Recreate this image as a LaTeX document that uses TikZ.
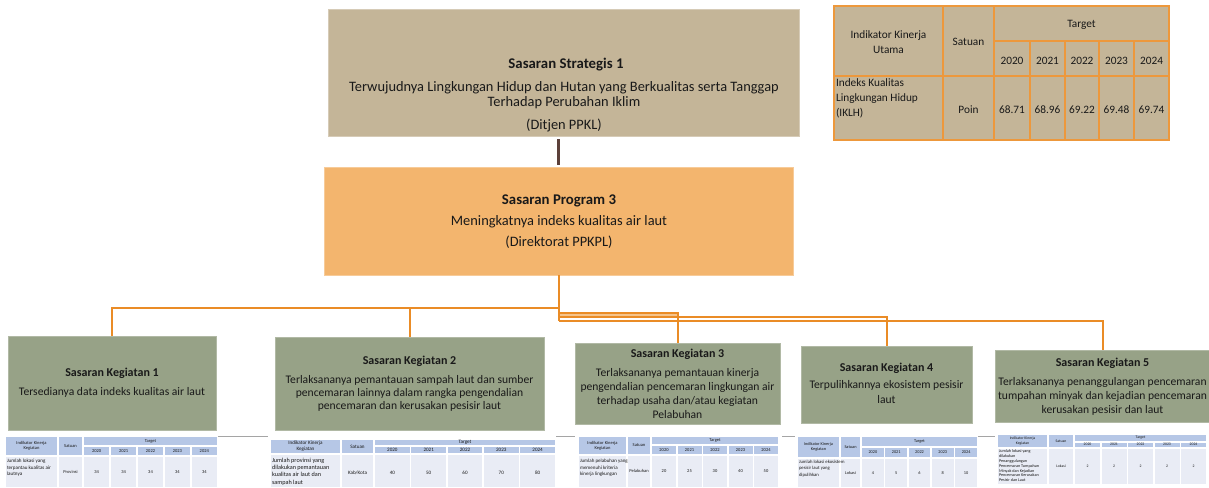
\documentclass[tikz,border=0pt]{standalone}
\usepackage{fontspec}
\setmainfont{Carlito}
\usetikzlibrary{calc}

\definecolor{tanbox}{RGB}{196,181,152}
\definecolor{progbox}{RGB}{243,181,110}
\definecolor{kegbox}{RGB}{151,162,135}
\definecolor{connor}{RGB}{234,140,38}
\definecolor{connband}{RGB}{245,196,140}
\definecolor{connbr}{RGB}{92,64,58}
\definecolor{tabline}{RGB}{237,152,60}
\definecolor{hdrblue}{RGB}{182,199,230}
\definecolor{cellblue}{RGB}{233,236,245}
\definecolor{sepgray}{RGB}{165,165,165}
\definecolor{ink}{RGB}{25,25,25}

% fonts used by the small indicator tables
\newcommand{\mtheadfont}{\fontsize{4}{4.8}\selectfont}
\newcommand{\mtdatafont}{\fontsize{4.6}{6.6}\selectfont}

% small indicator table: #1 name prefix, #2 left, #3 indicator column right,
% #4 unit column right, #5 right, #6 top, #7 target row bottom,
% #8 header bottom, #9 bottom
\newcommand{\minitab}[9]{%
  \pgfmathsetmacro{\mtl}{#4+2}%
  \pgfmathsetmacro{\mtw}{(#5-\mtl+1.5)/5}%
  \pgfmathsetmacro{\mtuc}{(#3+2+#4)/2}%
  \fill[hdrcell] (#2,#6) rectangle (#3,#8);
  \fill[hdrcell] (#3+2,#6) rectangle (#4,#8);
  \fill[hdrcell] (\mtl,#6) rectangle (#5,#7);
  \fill[datacell] (#2,#8+2) rectangle (#3,#9);
  \fill[datacell] (#3+2,#8+2) rectangle (#4,#9);
  \foreach \k in {0,...,4}{
    \fill[hdrcell] ({\mtl+\k*\mtw},#7+1.5) rectangle ({\mtl+(\k+1)*\mtw-1.5},#8);
    \fill[datacell] ({\mtl+\k*\mtw},#8+2) rectangle ({\mtl+(\k+1)*\mtw-1.5},#9);
  }
  \node[tabhead] (#1ind) at ({(#2+#3)/2},{(#6+#8)/2}) {Indikator Kinerja\\Kegiatan};
  \node[tabhead] (#1unit) at (\mtuc,{(#6+#8)/2}) {Satuan};
  \node[tabhead] (#1tgt) at ({(\mtl+#5)/2},{(#6+#7)/2}) {Target};
  \foreach \yr [count=\k from 0] in {2020,2021,2022,2023,2024}{
    \node[tabhead] (#1y\k) at ({\mtl+(\k+0.5)*\mtw-0.75},{(#7+1.5+#8)/2}) {\yr};
  }
}
% data row of the last small table: #1 prefix, #2 y, #3 unit, #4 values
\newcommand{\minivals}[4]{%
  \node[tabhead] (#1unitv) at (\mtuc,#2) {#3};
  \foreach \v [count=\k from 0] in {#4}{
    \node[tabhead] (#1v\k) at ({\mtl+(\k+0.5)*\mtw-0.75},#2) {\v};
  }
}

\begin{document}
\begin{tikzpicture}[x=1pt,y=-1pt,
  every node/.style={inner sep=0pt,outer sep=0pt,text=ink},
  boxbase/.style={rectangle,line width=0.8pt},
  ssbox/.style={boxbase,fill=tanbox,draw=tanbox!70!white},
  progboxst/.style={boxbase,fill=progbox,draw=progbox!70!white},
  kegboxst/.style={boxbase,fill=kegbox,draw=kegbox!75!white},
  bigtxt/.style={anchor=base,font=\fontsize{14.4}{17}\selectfont},
  bigbold/.style={anchor=base,font=\fontsize{14.8}{17}\selectfont\bfseries},
  kegtxt/.style={anchor=base,font=\fontsize{11.6}{14}\selectfont},
  kegbold/.style={anchor=base,font=\fontsize{12}{14}\selectfont\bfseries},
  orline/.style={draw=connor,line width=2pt},
  brline/.style={draw=connbr,line width=2.3pt},
  hdrcell/.style={fill=hdrblue},
  datacell/.style={fill=cellblue},
  tabhead/.style={font=\mtheadfont,align=center},
  tabdata/.style={font=\mtdatafont,align=left,anchor=north west},
  sepline/.style={draw=sepgray,line width=1pt},
  tgrid/.style={draw=tabline,line width=1.8pt},
  ttxt/.style={anchor=base,font=\fontsize{11.3}{13}\selectfont},
]
\useasboundingbox (0,0) rectangle (1209,487);
\fill[white] (0,0) rectangle (1209,487);

% ---------- strategic goal ----------
\node[ssbox,minimum width=471pt,minimum height=127pt] (ss) at (564,72.5) {};
\node[bigbold] (ssT) at (566,69) {Sasaran Strategis 1};
\node[bigtxt] (ssL1) at (564,91) {Terwujudnya Lingkungan Hidup dan Hutan yang Berkualitas serta Tanggap};
\node[bigtxt] (ssL2) at (564,106) {Terhadap Perubahan Iklim};
\node[bigtxt] (ssL3) at (564,129) {(Ditjen PPKL)};

% ---------- program goal ----------
\node[progboxst,minimum width=469pt,minimum height=108pt] (prog) at (558.5,221) {};
\node[bigbold] (progT) at (559,204) {Sasaran Program 3};
\node[bigtxt] (progL1) at (559,225) {Meningkatnya indeks kualitas air laut};
\node[bigtxt] (progL2) at (559,246) {(Direktorat PPKPL)};

\draw[brline,shorten <=3pt,shorten >=2pt] (ss.south -| prog.north) -- (prog.north);

% ---------- activity goals ----------
\node[kegboxst,minimum width=208pt,minimum height=94pt] (k1) at (112,383) {};
\node[kegbold] (k1T) at (112,376.5) {Sasaran Kegiatan 1};
\node[kegtxt] (k1L1) at (112,395.5) {Tersedianya data indeks kualitas air laut};

\node[kegboxst,minimum width=269pt,minimum height=93pt] (k2) at (409.5,383.5) {};
\node[kegbold] (k2T) at (409.5,364.5) {Sasaran Kegiatan 2};
\node[kegtxt] (k2L1) at (409.5,383.5) {Terlaksananya pemantauan sampah laut dan sumber};
\node[kegtxt] (k2L2) at (409.5,396.5) {pencemaran lainnya dalam rangka pengendalian};
\node[kegtxt] (k2L3) at (409.5,409.5) {pencemaran dan kerusakan pesisir laut};

\node[kegboxst,minimum width=205pt,minimum height=81pt] (k3) at (677.5,383.5) {};
\node[kegbold] (k3T) at (677.5,357.5) {Sasaran Kegiatan 3};
\node[kegtxt] (k3L1) at (677.5,376.5) {Terlaksananya pemantauan kinerja};
\node[kegtxt] (k3L2) at (677.5,390.5) {pengendalian pencemaran lingkungan air};
\node[kegtxt] (k3L3) at (677.5,404.5) {terhadap usaha dan/atau kegiatan};
\node[kegtxt] (k3L4) at (677.5,418.5) {Pelabuhan};

\node[kegboxst,minimum width=171pt,minimum height=77pt] (k4) at (886.5,384.5) {};
\node[kegbold] (k4T) at (886.5,371.5) {Sasaran Kegiatan 4};
\node[kegtxt] (k4L1) at (886.5,388.5) {Terpulihkannya ekosistem pesisir};
\node[kegtxt] (k4L2) at (886.5,403.5) {laut};

\node[kegboxst,minimum width=215pt,minimum height=72pt] (k5) at (1102.5,386) {};
\node[kegbold] (k5T) at (1102.5,366.5) {Sasaran Kegiatan 5};
\node[kegtxt] (k5L1) at (1102.5,385.5) {Terlaksananya penanggulangan pencemaran};
\node[kegtxt] (k5L2) at (1102.5,399.5) {tumpahan minyak dan kejadian pencemaran};
\node[kegtxt] (k5L3) at (1102.5,413.5) {kerusakan pesisir dan laut};

% ---------- orange connectors ----------
\coordinate (j1) at ($(prog.south)+(0,33)$);
\coordinate (j3) at ($(prog.south)+(0,38)$);
\coordinate (j4) at ($(prog.south)+(0,42)$);
\coordinate (j5) at ($(prog.south)+(0,46)$);
\fill[connband] (j3) rectangle (j4 -| k3.north);
\draw[orline] (prog.south) -- (j5);
\draw[orline] (j1) -| (k1.north);
\draw[orline] (j1) -| (k2.north);
\draw[orline] (j3) -| (k3.north);
\draw[orline] (j4) -| (k4.north);
\draw[orline] (j5) -| (k5.north);

% ---------- small indicator tables ----------
\draw[sepline] (218,436) -- (268,436);
\draw[sepline] (556,436) -- (575,436);
\draw[sepline] (782,436) -- (795,436);
\draw[sepline] (978,436) -- (995,436);

\renewcommand{\mtheadfont}{\fontsize{4.5}{5.3}\selectfont}
\renewcommand{\mtdatafont}{\fontsize{5.1}{6.6}\selectfont}
\minitab{ta}{6}{57}{82}{217}{437}{445}{455}{487}
\node[tabdata] (tatxt) at (7,459) {Jumlah lokasi yang\\terpantau kualitas air\\lautnya};
\minivals{ta}{472}{Provinsi}{34,34,34,34,34}

\renewcommand{\mtheadfont}{\fontsize{5.1}{5.8}\selectfont}
\renewcommand{\mtdatafont}{\fontsize{6.2}{7.3}\selectfont}
\minitab{tb}{271}{340}{373}{555}{440}{445}{453}{487}
\node[tabdata] (tbtxt) at (272,458) {Jumlah provinsi yang\\dilakukan pemantauan\\kualitas air laut dan\\sampah laut};
\minivals{tb}{473}{Kab/Kota}{40,50,60,70,80}

\renewcommand{\mtheadfont}{\fontsize{4.5}{5.2}\selectfont}
\renewcommand{\mtdatafont}{\fontsize{5}{6.6}\selectfont}
\minitab{tc}{579}{626}{650}{778}{437}{444}{454}{487}
\node[tabdata] (tctxt) at (580,459) {Jumlah pelabuhan yang\\memenuhi kriteria\\kinerja lingkungan};
\minivals{tc}{471}{Pelabuhan}{20,25,30,40,50}

\renewcommand{\mtheadfont}{\fontsize{4.3}{5}\selectfont}
\renewcommand{\mtdatafont}{\fontsize{4.7}{6.5}\selectfont}
\minitab{td}{798}{839}{860}{977}{437}{446}{457}{487}
\node[tabdata] (tdtxt) at (799,460) {Jumlah lokasi ekosistem\\pesisir laut yang\\dipulihkan};
\minivals{td}{473}{Lokasi}{4,5,6,8,10}

\renewcommand{\mtheadfont}{\fontsize{3.8}{4.3}\selectfont}
\renewcommand{\mtdatafont}{\fontsize{4.2}{4.8}\selectfont}
\minitab{te}{998}{1047}{1073}{1206}{435}{441}{447}{484}
\node[tabdata] (tetxt) at (999,450) {Jumlah lokasi yang\\dilakukan\\Penanggulangan\\Pencemaran Tumpahan\\Minyak dan Kejadian\\Pencemaran Kerusakan\\Pesisir dan Laut};
\minivals{te}{466}{Lokasi}{2,2,2,2,2}

% ---------- main indicator table ----------
\fill[tanbox] (834,6) rectangle (1169,140);
\draw[tgrid] (834,6) rectangle (1169,140);
\draw[tgrid] (943,6) -- (943,140);
\draw[tgrid] (994,6) -- (994,140);
\foreach \cx in {1030,1065,1099,1134} \draw[tgrid] (\cx,41) -- (\cx,140);
\draw[tgrid] (994,41) -- (1169,41);
\draw[tgrid] (834,76) -- (1169,76);

\node[ttxt] (uInd1) at (888.5,39) {Indikator Kinerja};
\node[ttxt] (uInd2) at (888.5,53) {Utama};
\node[ttxt] (uSat) at (968.5,46) {Satuan};
\node[ttxt] (uTgt) at (1081.5,28) {Target};
\foreach \yr/\cx in {2020/1012,2021/1047.5,2022/1082,2023/1116.5,2024/1151.5}
  \node[ttxt] (uy\yr) at (\cx,64) {\yr};
\node[ttxt,anchor=base west] (uD1) at (836,86.5) {Indeks Kualitas};
\node[ttxt,anchor=base west] (uD2) at (836,101.5) {Lingkungan Hidup};
\node[ttxt,anchor=base west] (uD3) at (836,116) {(IKLH)};
\node[ttxt] (uPoin) at (968.5,113) {Poin};
\foreach \v/\cx in {68.71/1012,68.96/1047.5,69.22/1082,69.48/1116.5,69.74/1151.5}
  \node[ttxt] (uv\cx) at (\cx,113) {\v};
\end{tikzpicture}
\end{document}
